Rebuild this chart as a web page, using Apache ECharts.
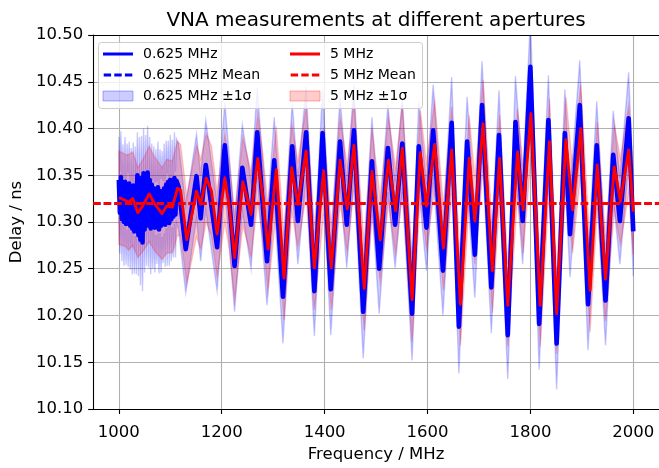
<!DOCTYPE html>
<html><head><meta charset="utf-8">
<script src="https://cdn.jsdelivr.net/npm/echarts@6/dist/echarts.min.js"></script>
<style>html,body{margin:0;padding:0;background:#fff}#c{width:659px;height:468px}</style>
</head><body><div id="c"></div>
<script>
// ---- data ----
const xTicks = [1000, 1200, 1400, 1600, 1800, 2000];

const redFreq = [1000,1013,1019,1027,1037,1046,1059,1070,1084,1093,1104,1114,1120,1132,1142,1151,1159,1170,1180,1191,
  1206,1215,1225,1241,1251,1257,1270,1280,1290,1306,1321,1336,1348,1364,1380,1398,1413,1430,1444,1457,
  1477,1492,1508,1524,1538,1551,1570,1586,1598,1614,1631,1647,1664,1681,1692,1708,1726,1740,1756,1775,
  1786,1801,1819,1837,1851,1869,1882,1898,1916,1930,1946,1963,1975,1991,2000];
const redDelay = [10.326,10.323,10.321,10.325,10.310,10.317,10.330,10.319,10.309,10.317,10.316,10.336,10.334,10.281,10.308,10.333,10.319,10.347,10.333,10.287,
  10.347,10.315,10.262,10.343,10.322,10.308,10.368,10.326,10.271,10.356,10.240,10.358,10.319,10.376,10.251,10.355,10.251,10.366,10.314,10.382,
  10.229,10.354,10.281,10.366,10.312,10.379,10.217,10.374,10.317,10.383,10.272,10.377,10.212,10.368,10.301,10.405,10.248,10.368,10.211,10.375,
  10.313,10.416,10.211,10.386,10.202,10.388,10.313,10.400,10.227,10.361,10.239,10.359,10.322,10.377,10.311];
const redSigma = [0.050,0.049,0.051,0.050,0.048,0.049,0.051,0.050,0.049,0.050,0.049,0.050,0.049,0.047,0.048,0.049,0.048,0.047,0.048,0.046,
  0.047,0.046,0.045,0.047,0.046,0.046,0.047,0.046,0.045,0.046,0.045,0.046,0.046,0.047,0.045,0.046,0.045,0.046,0.046,0.047,
  0.045,0.046,0.045,0.046,0.046,0.047,0.045,0.046,0.046,0.047,0.045,0.046,0.044,0.046,0.046,0.047,0.045,0.046,0.044,0.046,
  0.046,0.047,0.044,0.046,0.043,0.046,0.046,0.047,0.045,0.046,0.045,0.046,0.046,0.047,0.046];

const blueFreq = [1000,1002,1004,1006,1008,1010,1012,1014,1016,1018,1020,1022,1024,1026,1028,1030,1032,1034,1036,1038,
  1040,1042,1044,1046,1048,1050,1052,1054,1056,1058,1060,1062,1064,1066,1068,1070,1072,1074,1076,1078,
  1080,1082,1084,1086,1088,1090,1092,1094,1096,1098,1100,1102,1104,1106,1108,1110,1112,
  1116,1130,1151,1159,1169,1191,1206,1225,1240,1257,1269,1288,1302,1319,1337,1348,1364,1380,1396,1412,
  1430,1443,1457,1475,1492,1506,1523,1537,1551,1570,1583,1598,1611,1630,1647,1661,1677,1692,1706,1724,
  1739,1756,1771,1785,1800,1817,1835,1851,1867,1877,1896,1912,1929,1946,1961,1974,1991,2000];
const blueDelay = [10.345,10.310,10.348,10.303,10.340,10.300,10.343,10.298,10.338,10.302,10.341,10.296,10.335,10.293,10.339,10.290,10.333,10.295,10.350,10.286,
  10.344,10.281,10.347,10.278,10.352,10.292,10.349,10.300,10.353,10.296,10.345,10.293,10.340,10.297,10.336,10.294,10.332,10.299,10.337,10.292,
  10.333,10.296,10.330,10.300,10.336,10.297,10.340,10.302,10.343,10.299,10.345,10.303,10.341,10.306,10.347,10.308,10.344,
  10.338,10.271,10.349,10.304,10.361,10.273,10.382,10.253,10.358,10.297,10.396,10.258,10.366,10.220,10.381,10.301,10.396,10.226,10.395,10.228,
  10.386,10.297,10.398,10.204,10.365,10.250,10.379,10.297,10.384,10.202,10.381,10.294,10.398,10.248,10.406,10.188,10.386,10.265,10.425,10.230,
  10.393,10.179,10.407,10.301,10.466,10.191,10.409,10.170,10.395,10.287,10.425,10.212,10.382,10.216,10.372,10.301,10.411,10.290];
const blueSigma = [0.046,0.044,0.049,0.045,0.043,0.047,0.048,0.044,0.046,0.050,0.045,0.047,0.044,0.049,0.046,0.045,0.048,0.051,0.046,0.044,
  0.047,0.049,0.045,0.052,0.048,0.046,0.044,0.047,0.050,0.045,0.046,0.049,0.044,0.047,0.045,0.048,0.046,0.044,0.049,0.047,
  0.045,0.050,0.046,0.044,0.048,0.045,0.047,0.049,0.044,0.046,0.048,0.045,0.047,0.044,0.049,0.046,0.045,
  0.046,0.047,0.045,0.046,0.048,0.047,0.046,0.049,0.046,0.047,0.048,0.047,0.046,0.050,0.047,0.046,0.049,0.048,0.047,0.049,
  0.048,0.046,0.049,0.050,0.047,0.048,0.047,0.046,0.048,0.050,0.047,0.046,0.049,0.048,0.049,0.050,0.048,0.046,0.047,0.049,
  0.048,0.047,0.049,0.046,0.050,0.049,0.048,0.049,0.047,0.046,0.048,0.049,0.047,0.048,0.047,0.046,0.049,0.048];

const blueMean = 10.3168;
const redMean = 10.3166;

// ---- chart ----
const FONT = 'DejaVu Sans';
const chart = echarts.init(document.getElementById('c'), null, {renderer: 'canvas'});

function pairs(F, V) { return F.map((f, i) => [f, V[i]]); }
function band(name, F, V, S, fill, stroke) {
  return {
    type: 'custom', name: name, clip: true, silent: true, z: 1, animation: false,
    data: [[F[0], V[0]]],
    renderItem: function (params, api) {
      const up = [], lo = [];
      for (let i = 0; i < F.length; i++) {
        up.push(api.coord([F[i], V[i] + S[i]]));
        lo.push(api.coord([F[i], V[i] - S[i]]));
      }
      return { type: 'polygon', shape: { points: up.concat(lo.reverse()) },
               style: { fill: fill, stroke: stroke, lineWidth: 1.4 } };
    }
  };
}

// legend handles (30 x 10 box): solid line and dashed line
const SOLID_ICON = 'path://M0,0L0.01,0ZM0,10L0.01,10ZM0,3.6H30V6.4H0Z';
const DASH_ICON = 'path://M0,0L0.01,0ZM0,10L0.01,10ZM0,3.6H7.4V6.4H0ZM10.6,3.6H18V6.4H10.6ZM21.2,3.6H28.6V6.4H21.2Z';

const legendText = { fontFamily: FONT, fontSize: 14, color: '#000', lineHeight: 14, padding: [0, 0, 0, 5] };

chart.setOption({
  animation: false,
  backgroundColor: '#fff',
  grid: { left: 91, top: 35, width: 570, height: 379, containLabel: false },
  graphic: [
    { type: 'text', x: 376, y: 21, z: 100,
      style: { text: 'VNA measurements at different apertures', font: '20px "DejaVu Sans"', fill: '#000', align: 'center', verticalAlign: 'middle' } },
    { type: 'rect', z: 50, shape: { x: 98.5, y: 42.5, width: 324, height: 66, r: 3 },
      style: { fill: 'rgba(255,255,255,0.8)', stroke: '#cccccc', lineWidth: 1 } }
  ],
  xAxis: [{
    type: 'value', min: 950, max: 2050,
    name: 'Frequency / MHz', nameLocation: 'middle', nameGap: 37,
    nameTextStyle: { fontFamily: FONT, fontSize: 16.5, color: '#000' },
    axisLine: { show: true, onZero: false, lineStyle: { color: '#000', width: 1.1 } },
    axisTick: { show: true, length: 5, inside: false, customValues: xTicks, lineStyle: { color: '#000', width: 1.1 } },
    axisLabel: { show: true, margin: 15, customValues: xTicks, fontFamily: FONT, fontSize: 16.5, color: '#000',
                 formatter: v => String(v) },
    splitLine: { show: true, lineStyle: { color: '#b0b0b0', width: 1.1 } }
  }, {
    type: 'value', min: 950, max: 2050, position: 'top',
    axisLine: { show: true, onZero: false, lineStyle: { color: '#000', width: 1.1 } },
    axisTick: { show: false }, axisLabel: { show: false }, splitLine: { show: false }
  }],
  yAxis: [{
    type: 'value', min: 10.10, max: 10.50, interval: 0.05,
    name: 'Delay / ns', nameLocation: 'middle', nameGap: 67,
    nameTextStyle: { fontFamily: FONT, fontSize: 16.5, color: '#000' },
    axisLine: { show: true, onZero: false, lineStyle: { color: '#000', width: 1.1 } },
    axisTick: { show: true, length: 5, inside: false, lineStyle: { color: '#000', width: 1.1 } },
    axisLabel: { show: true, margin: 10, fontFamily: FONT, fontSize: 16.5, color: '#000',
                 padding: [5, 0, 0, 0], formatter: v => v.toFixed(2) },
    splitLine: { show: true, lineStyle: { color: '#b0b0b0', width: 1.1 } }
  }],
  legend: [{
    orient: 'vertical', left: 102.5, top: 47, z: 60, padding: 0,
    itemWidth: 30, itemHeight: 10, itemGap: 7, textStyle: legendText,
    data: [
      { name: '0.625 MHz', icon: SOLID_ICON, itemStyle: { color: '#0000ff', borderWidth: 0 } },
      { name: '0.625 MHz Mean', icon: DASH_ICON, itemStyle: { color: '#0000ff', borderWidth: 0 } },
      { name: '0.625 MHz ±1σ', icon: 'rect', itemStyle: { color: 'rgba(0,0,255,0.2)', borderColor: 'rgba(0,0,255,0.3)', borderWidth: 1 } }
    ]
  }, {
    orient: 'vertical', left: 289.5, top: 47, z: 60, padding: 0,
    itemWidth: 30, itemHeight: 10, itemGap: 7, textStyle: legendText,
    data: [
      { name: '5 MHz', icon: SOLID_ICON, itemStyle: { color: '#ff0000', borderWidth: 0 } },
      { name: '5 MHz Mean', icon: DASH_ICON, itemStyle: { color: '#ff0000', borderWidth: 0 } },
      { name: '5 MHz ±1σ', icon: 'rect', itemStyle: { color: 'rgba(255,0,0,0.2)', borderColor: 'rgba(255,0,0,0.3)', borderWidth: 1 } }
    ]
  }],
  series: [
    band('0.625 MHz ±1σ', blueFreq, blueDelay, blueSigma, 'rgba(0,0,255,0.2)', 'rgba(0,0,255,0.2)'),
    band('5 MHz ±1σ', redFreq, redDelay, redSigma, 'rgba(255,0,0,0.2)', 'rgba(255,0,0,0.2)'),
    { type: 'line', name: '0.625 MHz', data: pairs(blueFreq, blueDelay), symbol: 'none', z: 3,
      lineStyle: { color: '#0000ff', width: 4.6, join: 'round' }, itemStyle: { color: '#0000ff' }, clip: true },
    { type: 'line', name: '0.625 MHz Mean', data: [], symbol: 'none', z: 3,
      lineStyle: { color: '#0000ff', width: 2.8, type: [7.4, 3.2] }, itemStyle: { color: '#0000ff' },
      markLine: { silent: true, symbol: ['none', 'none'], label: { show: false }, animation: false,
        lineStyle: { color: '#0000ff', width: 2.8, type: [7.4, 3.2] }, data: [{ yAxis: blueMean }] } },
    { type: 'line', name: '5 MHz', data: pairs(redFreq, redDelay), symbol: 'none', z: 3,
      lineStyle: { color: '#ff0000', width: 2.9, join: 'round' }, itemStyle: { color: '#ff0000' }, clip: true },
    { type: 'line', name: '5 MHz Mean', data: [], symbol: 'none', z: 3,
      lineStyle: { color: '#ff0000', width: 2.8, type: [7.4, 3.2] }, itemStyle: { color: '#ff0000' },
      markLine: { silent: true, symbol: ['none', 'none'], label: { show: false }, animation: false,
        lineStyle: { color: '#ff0000', width: 2.8, type: [7.4, 3.2] }, data: [{ yAxis: redMean }] } }
  ]
});
</script>
</body></html>
